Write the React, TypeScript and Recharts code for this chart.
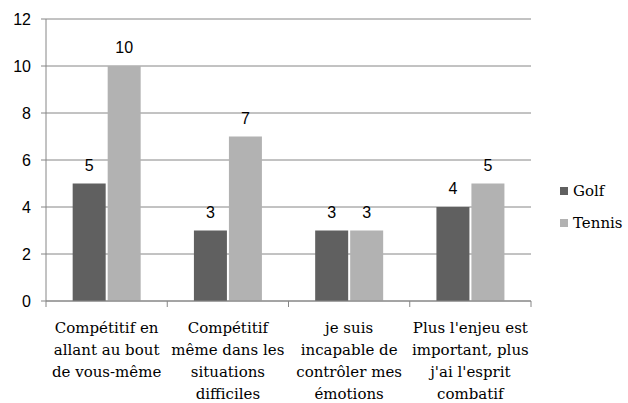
import React from "react";
import { BarChart, Bar, XAxis, YAxis, CartesianGrid, LabelList } from "recharts";

const categories = [
  "Compétitif en\nallant au bout\nde vous-même",
  "Compétitif\nmême dans les\nsituations\ndifficiles",
  "je suis\nincapable de\ncontrôler mes\némotions",
  "Plus l'enjeu est\nimportant, plus\nj'ai l'esprit\ncombatif",
];
const golfValues = [5, 3, 3, 4];
const tennisValues = [10, 7, 3, 5];
const yTicks = [0, 2, 4, 6, 8, 10, 12];
const seriesNames = ["Golf", "Tennis"];
const seriesColors = ["#606060", "#b2b2b2"];

const data = categories.map((c, i) => ({
  name: c,
  Golf: golfValues[i],
  Tennis: tennisValues[i],
}));

const W = 628;
const H = 403;
const M = { top: 19, right: 97, left: 0, bottom: 0 };
const Y_W = 46;
const X_H = 102;
const PLOT_W = W - M.left - M.right - Y_W;
const BAND = PLOT_W / categories.length;
const AXIS_COLOR = "#868686";
const SERIF = "'DejaVu Serif', 'Liberation Serif', 'Noto Serif', 'Times New Roman', Tinos, serif";
const SANS = "'Liberation Sans', Arial, sans-serif";

const XTick = (props: any) => {
  const { x, y, payload, index } = props;
  const lines = String(payload.value).split("\n");
  const last = index === categories.length - 1;
  return (
    <g>
      <line x1={x - BAND / 2} x2={x - BAND / 2} y1={y} y2={y + 6} stroke={AXIS_COLOR} />
      {last && <line x1={x + BAND / 2} x2={x + BAND / 2} y1={y} y2={y + 6} stroke={AXIS_COLOR} />}
      <text
        x={x}
        y={y + 32}
        textAnchor="middle"
        style={{ fontFamily: SERIF, fontSize: 15 }}
        fill="#000"
      >
        {lines.map((l, i) => (
          <tspan key={i} x={x} dy={i === 0 ? 0 : 22}>
            {l}
          </tspan>
        ))}
      </text>
    </g>
  );
};

export default function App() {
  return (
    <div style={{ position: "absolute", left: 0, top: 0, width: W, height: H, background: "#fff" }}>
      <BarChart width={W} height={H} data={data} margin={M} barCategoryGap="22%" barGap={2}>
        <CartesianGrid vertical={false} stroke={AXIS_COLOR} />
        <XAxis
          dataKey="name"
          interval={0}
          height={X_H}
          tickLine={false}
          tickSize={0}
          tickMargin={0}
          stroke={AXIS_COLOR}
          tick={<XTick />}
        />
        <YAxis
          width={Y_W}
          domain={[0, 12]}
          ticks={yTicks}
          tickSize={5}
          tickMargin={10}
          stroke={AXIS_COLOR}
          tick={{ fill: "#000", fontSize: 16, fontFamily: SANS }}
        />
        {seriesNames.map((s, i) => (
          <Bar key={s} dataKey={s} fill={seriesColors[i]} isAnimationActive={false}>
            <LabelList dataKey={s} position="top" offset={13} fill="#000" fontSize={16} fontFamily={SANS} />
          </Bar>
        ))}
      </BarChart>
      <div style={{ position: "absolute", left: 560, top: 175, fontFamily: SERIF, fontSize: 15, color: "#000" }}>
        {seriesNames.map((s, i) => (
          <div key={s} style={{ display: "flex", alignItems: "center", height: 32 }}>
            <div style={{ width: 8, height: 8, background: seriesColors[i], marginRight: 5 }} />
            <span>{s}</span>
          </div>
        ))}
      </div>
    </div>
  );
}
